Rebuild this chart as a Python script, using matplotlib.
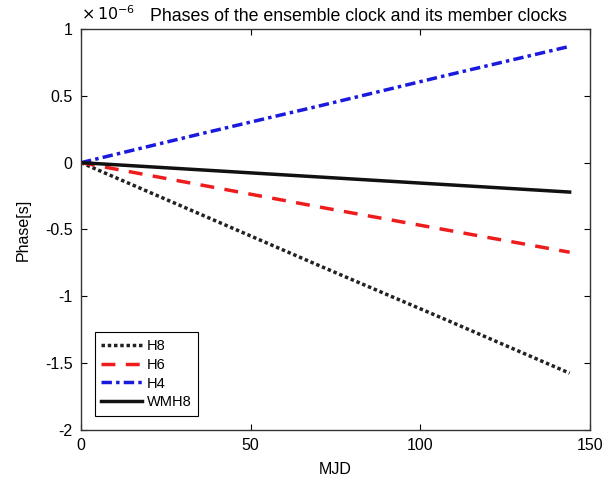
import matplotlib
matplotlib.use("Agg")
import matplotlib.pyplot as plt
from matplotlib.ticker import FuncFormatter

plt.rcParams['font.family'] = ['Liberation Sans', 'DejaVu Sans']

# Phase of each clock (seconds) against MJD offset
mjd = [0, 36, 72, 108, 144]
h8 = [0.0, -0.395e-6, -0.79e-6, -1.18e-6, -1.575e-6]
h6 = [0.0, -0.17e-6, -0.34e-6, -0.505e-6, -0.67e-6]
h4 = [0.0, 0.22e-6, 0.435e-6, 0.655e-6, 0.87e-6]
wmh8 = [0.0, -0.055e-6, -0.11e-6, -0.165e-6, -0.22e-6]

series_names = ["H8", "H6", "H4", "WMH8"]
x_ticks = [0, 50, 100, 150]
y_ticks = [-2, -1.5, -1, -0.5, 0, 0.5, 1]
scale = 1e-6

fig = plt.figure(figsize=(6.11, 4.8), dpi=100)
ax = fig.add_axes([0.1326, 0.1042, 0.833, 0.8354])

def scaled(v):
    return [p / scale for p in v]

ax.plot(mjd, scaled(h8), color="#222222", linestyle=(0, (1, 0.8)), linewidth=2.5, label=series_names[0])
ax.plot(mjd, scaled(h6), color="#ee1c1c", linestyle=(0, (4, 3)), linewidth=2.5, label=series_names[1])
ax.plot(mjd, scaled(h4), color="#1a1adf", linestyle=(0, (3, 1.2, 1, 1.2)), linewidth=2.5, label=series_names[2])
ax.plot(mjd, scaled(wmh8), color="#111111", linestyle="-", linewidth=2.5, label=series_names[3])

ax.set_xlim(0, 150)
ax.set_ylim(-2, 1)
ax.set_xticks(x_ticks)
ax.set_yticks(y_ticks)
ax.yaxis.set_major_formatter(FuncFormatter(lambda v, p: ("%g" % v).replace("\u2212", "-")))
ax.tick_params(direction="in", top=True, right=True, labelsize=11.5, length=4, width=0.8, pad=6)
for s in ax.spines.values():
    s.set_linewidth(1.0)
    s.set_color("#333333")

ax.set_xlabel("MJD", fontsize=11.5, labelpad=6)
ax.set_ylabel("Phase[s]", fontsize=11.5, labelpad=10)
ax.text(0.0, 1.012, r"$\times\,10^{-6}$", transform=ax.transAxes, fontsize=11.5,
        family="DejaVu Serif", ha="left", va="bottom")
ax.text(0.135, 1.01, "Phases of the ensemble clock and its member clocks",
        transform=ax.transAxes, fontsize=12.8, ha="left", va="bottom")

leg = ax.legend(loc="lower left", bbox_to_anchor=(0.027, 0.035), fontsize=10.5, handlelength=2.8,
                handletextpad=0.3, borderpad=0.45, labelspacing=0.33, borderaxespad=0,
                fancybox=False, framealpha=1, edgecolor="black")
leg.get_frame().set_linewidth(0.8)

fig.savefig("out.png", dpi=100)
